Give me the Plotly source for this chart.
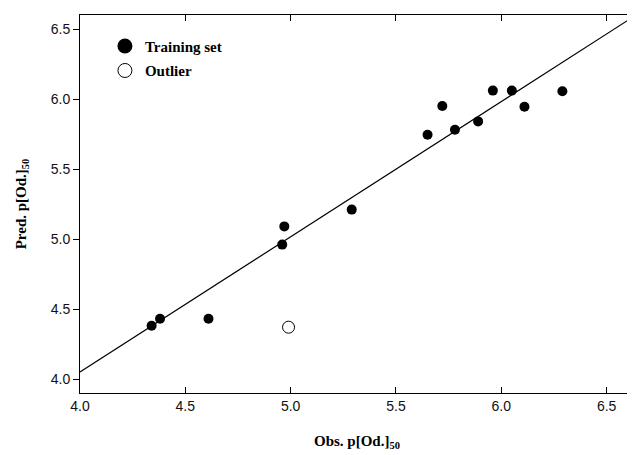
import plotly.graph_objects as go

# Data
train_obs = [4.34, 4.38, 4.61, 4.96, 4.97, 5.29, 5.65, 5.72, 5.78, 5.89, 5.96, 6.05, 6.11, 6.29]
train_pred = [4.38, 4.43, 4.43, 4.96, 5.09, 5.21, 5.745, 5.95, 5.78, 5.84, 6.06, 6.06, 5.945, 6.055]
outlier_obs = [4.99]
outlier_pred = [4.37]
fit_x = [4.0, 6.63]
fit_y = [4.05, 6.59]
tick_vals = [4.0, 4.5, 5.0, 5.5, 6.0, 6.5]
tick_text = ["4.0", "4.5", "5.0", "5.5", "6.0", "6.5"]

serif = "Liberation Serif, Times New Roman, serif"
sans = "Liberation Sans, Arial, sans-serif"

fig = go.Figure()
fig.add_trace(go.Scatter(x=fit_x, y=fit_y, mode="lines",
                         line=dict(color="black", width=1.2), showlegend=False, hoverinfo="skip"))
fig.add_trace(go.Scatter(x=train_obs, y=train_pred, mode="markers",
                         marker=dict(color="black", size=10), showlegend=False))
fig.add_trace(go.Scatter(x=outlier_obs, y=outlier_pred, mode="markers",
                         marker=dict(color="white", size=12, line=dict(color="black", width=1)),
                         showlegend=False))
# legend entries
fig.add_trace(go.Scatter(x=[None], y=[None], mode="markers", name="Training set",
                         legendgroup="a",
                         marker=dict(color="black", size=15)))
fig.add_trace(go.Scatter(x=[None], y=[None], mode="markers", name="Outlier",
                         legendgroup="b",
                         marker=dict(color="white", size=14, line=dict(color="black", width=1))))

axis_common = dict(
    showgrid=False, zeroline=False, showline=True, linecolor="black", linewidth=1,
    tickvals=tick_vals, ticktext=tick_text, ticklen=6, tickcolor="black",
    tickfont=dict(family=sans, size=14, color="#111"), automargin=False,
)
fig.update_xaxes(**axis_common, range=[4.0, 6.63], ticks="inside", mirror="ticks",
                 title=dict(text="<b>Obs. p[Od.]<sub>50</sub></b>",
                            font=dict(family=serif, size=15, color="black"), standoff=22))
fig.update_yaxes(**axis_common, range=[3.9, 6.6], ticks="outside", mirror="ticks",
                 title=dict(text="<b>Pred. p[Od.]<sub>50</sub></b>",
                            font=dict(family=serif, size=15, color="black"), standoff=20))

# page body has an 8px margin, so the figure is sized to fit the 635x455 window
fig.update_layout(
    width=627, height=447,
    margin=dict(l=72, r=1, t=7, b=62),
    plot_bgcolor="white", paper_bgcolor="white",
    legend=dict(x=0.045, y=0.961, xanchor="left", yanchor="top",
                bgcolor="rgba(0,0,0,0)", traceorder="grouped", tracegroupgap=2,
                font=dict(family=serif, size=15, color="black", weight="bold"),
                itemsizing="trace"),
)

fig.write_html("out.html")
